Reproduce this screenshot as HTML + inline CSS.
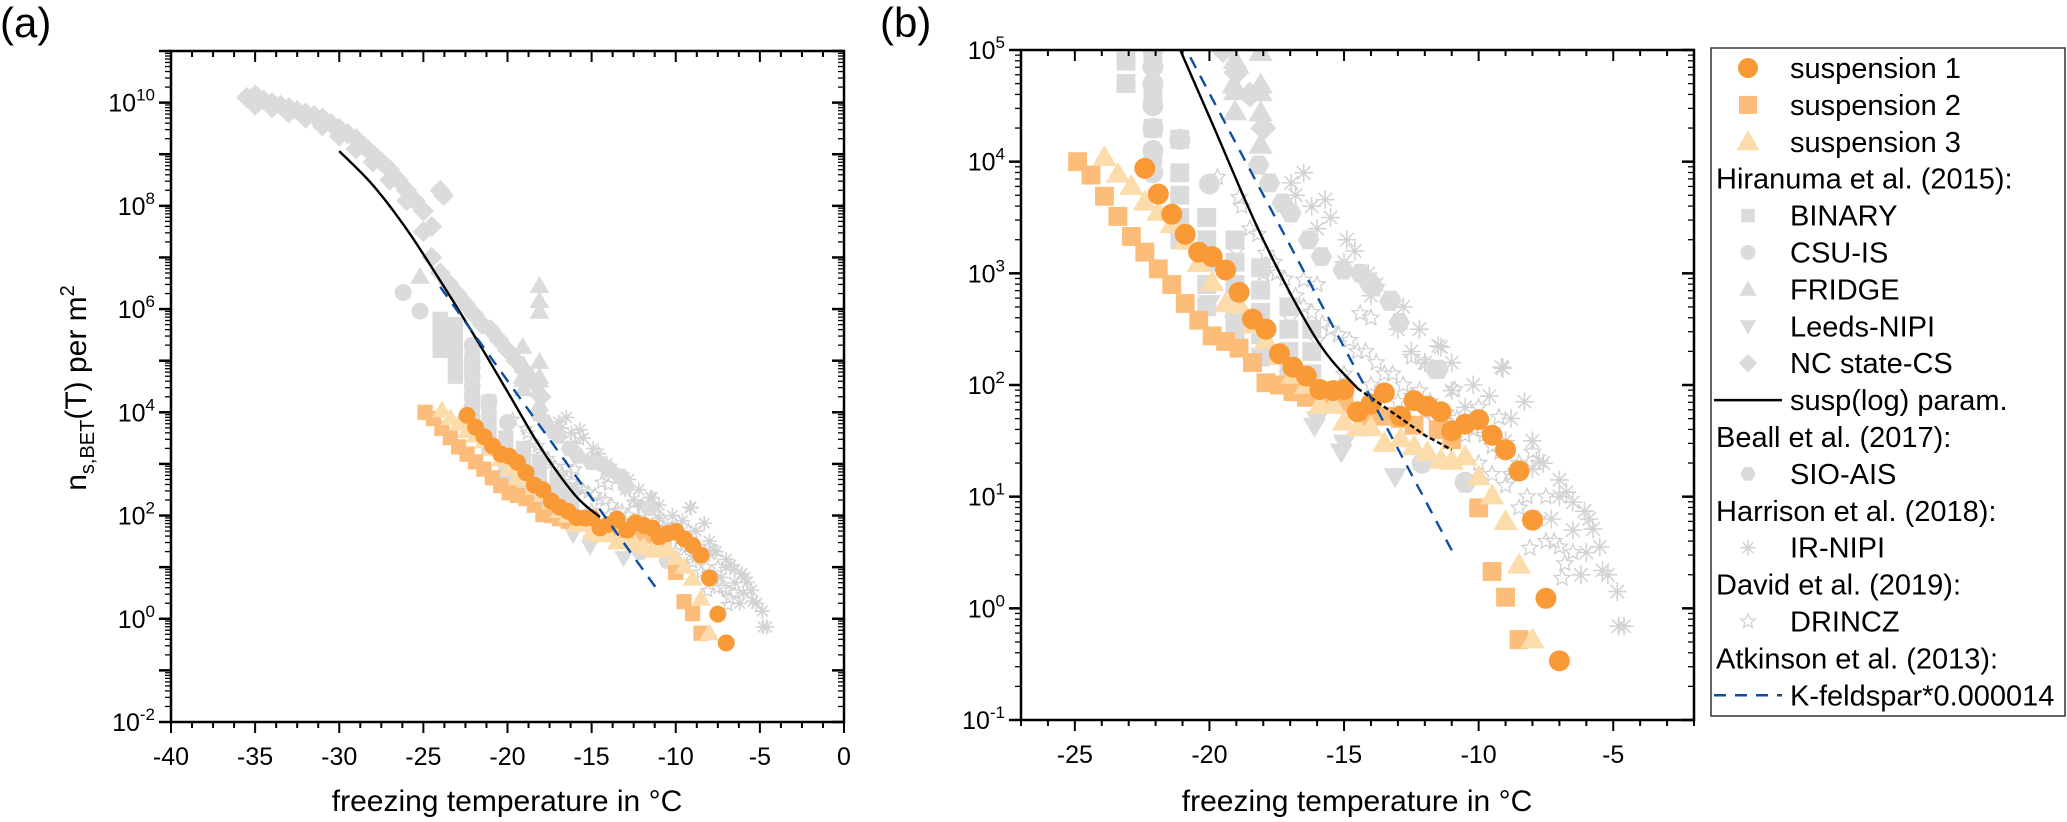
<!DOCTYPE html>
<html><head><meta charset="utf-8"><style>
html,body{margin:0;padding:0;background:#fff;}
svg{display:block;font-family:"Liberation Sans",sans-serif;}
</style></head><body>
<svg id="chart" width="2067" height="822" viewBox="0 0 2067 822" xmlns="http://www.w3.org/2000/svg">
<text x="0" y="37" font-size="42">(a)</text>
<text x="880" y="37" font-size="42">(b)</text>
<g id="pa"></g>
<g id="pb"></g>
<text transform="translate(86,388) rotate(-90)" text-anchor="middle" font-size="30">n<tspan font-size="20" dy="8">s,BET</tspan><tspan dy="-8">(T) per m</tspan><tspan font-size="20" dy="-12">2</tspan></text>
<text x="507" y="811" text-anchor="middle" font-size="30">freezing temperature in °C</text>
<text x="1357" y="811" text-anchor="middle" font-size="30">freezing temperature in °C</text>
<g id="legend"></g>
</svg>
<script>
// ---- data (temperature in °C, log10 of n_s per m²) ----
const s1T=[-22.4,-21.9,-21.4,-20.9,-20.4,-19.9,-19.4,-18.9,-18.4,-17.9,-17.4,-16.9,-16.4,-15.9,-15.4,-15.0,-14.5,-14.0,-13.5,-12.9,-12.4,-11.9,-11.4,-11.0,-10.5,-10.0,-9.5,-9.0,-8.5,-8.0,-7.5,-7.0];
const s1L=[3.94,3.71,3.53,3.35,3.19,3.15,3.03,2.83,2.59,2.5,2.28,2.16,2.08,1.96,1.95,1.96,1.76,1.83,1.93,1.72,1.86,1.81,1.76,1.59,1.65,1.69,1.55,1.42,1.23,0.79,0.09,-0.47];
const s2T=[-24.9,-24.4,-23.9,-23.4,-22.9,-22.4,-21.9,-21.4,-20.9,-20.4,-19.9,-19.4,-18.9,-18.4,-17.9,-17.4,-16.9,-16.4,-15.9,-15.4,-15.0,-14.0,-13.5,-12.9,-12.4,-11.5,-11.0,-10.0,-9.5,-9.0,-8.5];
const s2L=[4.0,3.88,3.69,3.51,3.33,3.19,3.04,2.90,2.73,2.58,2.44,2.39,2.33,2.20,2.02,2.0,1.94,1.89,1.89,1.84,1.83,1.72,1.72,1.70,1.64,1.60,1.51,0.90,0.33,0.10,-0.28];
const s3T=[-23.9,-23.4,-22.9,-22.4,-21.9,-21.4,-20.9,-20.4,-19.9,-19.4,-18.9,-18.4,-17.9,-17.4,-16.9,-16.4,-15.9,-15.4,-15.0,-14.5,-14.0,-13.5,-12.9,-12.4,-11.9,-11.4,-11.0,-10.5,-10.0,-9.5,-9.0,-8.5,-8.0];
const s3L=[4.04,3.89,3.78,3.64,3.55,3.44,3.29,3.09,2.92,2.73,2.72,2.54,2.40,2.26,2.09,2.0,1.82,1.82,1.67,1.62,1.62,1.48,1.52,1.45,1.40,1.33,1.32,1.36,1.18,1.01,0.78,0.39,-0.28];
const binT=[-24.0,-24.0,-24.0,-24.0,-23.1,-23.1,-23.1,-23.1,-23.1,-23.1,-22.1,-22.1,-22.1,-22.1,-22.1,-21.1,-21.1,-21.1,-21.1,-21.1,-20.1,-20.1,-20.1,-20.1,-20.1,-19.05,-19.05,-19.05,-19.05,-19.05,-18.1,-18.1,-18.1,-18.1,-18.1,-17.05,-17.05,-17.05,-17.05,-16.2,-16.2,-16.2];
const binL=[5.2,5.4,5.6,5.8,4.7,4.9,5.1,5.3,5.5,5.7,4.05,4.3,4.6,4.9,5.2,3.3,3.5,3.7,3.9,4.2,2.7,2.9,3.1,3.3,3.5,2.5,2.7,2.9,3.1,3.3,2.25,2.45,2.65,2.85,3.05,2.1,2.3,2.5,2.7,2.1,2.3,2.5];
const csuT=[-26.2,-25.2,-22.1,-22.1,-22.1,-22.1,-22.1,-22.1,-22.1,-22.1,-21.1,-20.0,-12.1,-10.5];
const csuL=[6.32,5.96,3.9,4.1,4.3,4.5,4.7,4.85,5.0,5.3,4.2,3.8,1.3,1.13];
const friT=[-25.2,-18.1,-18.1,-18.1,-18.1,-18.1,-18.1,-18.1,-18.1,-19.05,-19.05,-19.05,-19.1,-19.1];
const friL=[6.63,6.45,6.16,5.95,4.98,4.69,4.62,4.44,4.15,4.91,4.63,4.45,5.27,4.69];
const leedsT=[-20.0,-19.05,-16.0,-15.0,-13.1,-16.1,-15.1];
const leedsL=[2.73,2.55,1.69,1.48,1.18,1.63,1.40];
const ncT=[-35.5,-35,-34.5,-34,-33.5,-33,-32.5,-32,-31.5,-31,-30.5,-30,-29.5,-29,-28.5,-28,-27.5,-27,-26.5,-26,-25.5,-25,-24.5,-24,-23.8,-35,-34,-33,-32,-31,-30,-29,-28,-27,-26,-25,-24.5,-24,-23.5,-23,-22.5,-22,-21.5,-21,-20.5,-20,-19.5,-19,-18.5,-18];
const ncL=[10.1,10.15,10.05,10.0,9.95,9.9,9.85,9.8,9.75,9.7,9.6,9.5,9.4,9.3,9.15,9.0,8.85,8.7,8.5,8.3,8.1,7.9,7.6,8.3,8.2,9.95,9.9,9.8,9.7,9.55,9.35,9.1,8.85,8.5,8.1,7.5,7.0,6.7,6.5,6.3,6.1,5.9,5.7,5.6,5.4,5.2,5.0,4.8,4.6,4.3];
const sioT=[-18.17,-17.77,-17.29,-16.97,-16.32,-15.84,-15.03,-14.39,-14.06,-13.91,-13.3,-13.27,-12.95,-11.6,-11.5,-10.5];
const sioL=[3.97,3.81,3.63,3.54,3.30,3.15,3.03,3.0,2.91,2.88,2.75,2.76,2.56,2.14,2.14,1.12];
const irT=[-16.96,-16.5,-15.7,-14.9,-14.1,-12.8,-11.4,-11.5,-9.1,-9.15,-8.3,-7.75,-6.74,-6.07,-5.75,-5.4,-4.85,-4.6,-4.8,-16.0,-15.0,-14.0,-13.0,-12.0,-11.0,-10.0,-9.0,-8.0,-7.0,-6.5,-6.0,-12.5,-10.5,-8.7,-7.3,-6.2,-16.8,-16.2,-15.5,-14.6,-13.8,-13.2,-12.2,-11.0,-10.2,-9.6,-8.8,-8.0,-7.6,-7.0,-6.5,-5.9,-5.5,-5.2];
const irL=[3.81,3.9,3.66,3.3,3.0,2.7,2.34,2.35,2.15,2.16,1.85,1.32,1.04,0.87,0.71,0.34,0.15,-0.16,-0.16,3.4,3.1,2.8,2.5,2.2,1.95,1.7,1.5,1.25,1.0,0.7,0.5,2.3,1.8,1.2,0.8,0.3,3.7,3.6,3.5,3.2,2.9,2.75,2.5,2.2,2.0,1.9,1.7,1.5,1.3,1.15,0.95,0.8,0.55,0.3];
const drT=[-19.7,-18.9,-17.9,-16.5,-14.4,-12.5,-10.9,-9.25,-8.1,-6.9,-9.5,-8.5,-7.5,-6.5,-18.5,-17.5,-16.5,-15.5,-14.5,-13.5,-12.5,-11.5,-10.5,-9.5,-8.5,-7.5,-17.0,-15.0,-13.0,-11.0,-10.0,-9.0,-8.0,-7.0,-19.0,-16.0,-14.0,-12.0,-18.8,-18.2,-17.6,-17.2,-16.8,-16.2,-15.8,-15.2,-14.8,-14.2,-13.8,-13.2,-12.8,-12.2,-11.8,-11.2,-10.8,-10.2,-9.8,-9.2,-8.8,-8.2,-7.8,-7.2,-6.8,-18.0,-16.0,-14.0,-12.0,-10.0,-8.0];
const drL=[3.86,3.68,3.18,2.94,2.64,2.25,1.96,1.71,0.54,0.27,1.2,0.9,0.6,0.5,3.4,3.0,2.7,2.5,2.3,2.1,1.9,1.7,1.55,1.45,1.3,1.0,2.6,2.1,1.85,1.6,1.3,1.1,0.8,0.55,3.2,2.4,2.0,1.75,3.6,3.35,3.1,2.95,2.8,2.65,2.55,2.45,2.4,2.3,2.2,2.1,2.0,1.95,1.85,1.75,1.7,1.6,1.55,1.4,1.2,1.0,0.8,0.6,0.4,3.0,2.9,2.6,2.2,1.8,1.4];
const paramT=[-30,-28,-26,-24,-22,-20,-18,-16,-14.5];
const paramL=[9.06,8.4,7.55,6.55,5.5,4.4,3.3,2.4,1.97];
const paramExtT=[-14.5,-13,-12,-11];
const paramExtL=[1.97,1.72,1.55,1.42];
const kfT=[-24,-11];
const kfL=[6.43,0.52];

const NS="http://www.w3.org/2000/svg";
function mk(tag,attrs,parent){const e=document.createElementNS(NS,tag);for(const k in attrs)e.setAttribute(k,attrs[k]);if(parent)parent.appendChild(e);return e;}
const GRAY="#dbdbdb";
const C1="#f99a36",C2="#fdbd7a",C3="#fddcac";

function markerShape(type,x,y,s,color,parent){
  let e;
  if(type==="circle"){e=mk("circle",{cx:x,cy:y,r:s/2,fill:color},parent);}
  else if(type==="square"){e=mk("rect",{x:x-s*0.45,y:y-s*0.45,width:s*0.9,height:s*0.9,fill:color},parent);}
  else if(type==="tri"){e=mk("path",{d:`M${x},${y-s*0.58}L${x+s*0.58},${y+s*0.42}L${x-s*0.58},${y+s*0.42}Z`,fill:color},parent);}
  else if(type==="tridown"){e=mk("path",{d:`M${x},${y+s*0.55}L${x+s*0.55},${y-s*0.4}L${x-s*0.55},${y-s*0.4}Z`,fill:color},parent);}
  else if(type==="diamond"){const r=s*0.62;e=mk("path",{d:`M${x},${y-r}L${x+r},${y}L${x},${y+r}L${x-r},${y}Z`,fill:color},parent);}
  else if(type==="hex"){const r=s*0.52;let d="";for(let i=0;i<6;i++){const a=Math.PI/3*i;d+=(i?"L":"M")+(x+r*Math.cos(a))+","+(y+r*Math.sin(a));}e=mk("path",{d:d+"Z",fill:color},parent);}
  else if(type==="ast"){const r=s*0.5;let d="";for(let i=0;i<4;i++){const a=Math.PI/4*i;d+=`M${x-r*Math.cos(a)},${y-r*Math.sin(a)}L${x+r*Math.cos(a)},${y+r*Math.sin(a)}`;}e=mk("path",{d:d,stroke:"#d3d3d3","stroke-width":1.6,fill:"none"},parent);}
  else if(type==="star"){const R=s*0.5,r=R*0.45;let d="";for(let i=0;i<10;i++){const a=-Math.PI/2+Math.PI/5*i;const rr=i%2?r:R;d+=(i?"L":"M")+(x+rr*Math.cos(a))+","+(y+rr*Math.sin(a));}e=mk("path",{d:d+"Z",stroke:"#d0d0d0","stroke-width":1.3,fill:"#fff","fill-opacity":0.3},parent);}
  return e;
}

function drawPanel(gid,P,ms,xMajor,xMinorStep,xLabels,cid){
  const g=document.getElementById(gid);
  const sx=t=>P.x0+(t-P.tmin)/(P.tmax-P.tmin)*(P.x1-P.x0);
  const sy=l=>P.y1-(l-P.lmin)/(P.lmax-P.lmin)*(P.y1-P.y0);
  const defs=mk("defs",{},g);
  const cp=mk("clipPath",{id:cid},defs);
  mk("rect",{x:P.x0,y:P.y0,width:P.x1-P.x0,height:P.y1-P.y0},cp);
  const plot=mk("g",{"clip-path":`url(#${cid})`},g);
  
  
  function series(name,T,L,type,color,size){
    const sg=mk("g",{},plot);
    
    
    for(let i=0;i<T.length;i++){
      const m=markerShape(type,sx(T[i]),sy(L[i]),size,color,sg);
      
      
    }
  }
  series('drincz-series',drT,drL,'star',null,ms*0.8);
  series('ir-nipi-series',irT,irL,'ast',null,ms*0.9);
  series('sio-ais-series',sioT,sioL,'hex',GRAY,ms);
  series('nc-state-series',ncT,ncL,'diamond',GRAY,ms);
  series('binary-series',binT,binL,'square',GRAY,ms);
  series('csu-is-series',csuT,csuL,'circle',GRAY,ms);
  series('fridge-series',friT,friL,'tri',GRAY,ms);
  series('leeds-nipi-series',leedsT,leedsL,'tridown',GRAY,ms);
  series('suspension-2-series',s2T,s2L,'square',C2,ms);
  series('suspension-3-series',s3T,s3L,'tri',C3,ms);
  series('suspension-1-series',s1T,s1L,'circle',C1,ms);
  function line(name,T,L,color,dash,w){
    const d=T.map((t,i)=>(i?"L":"M")+sx(t)+","+sy(L[i])).join("");
    const p=mk("path",{d:d,stroke:color,"stroke-width":w,fill:"none"},plot);
    if(dash)p.setAttribute("stroke-dasharray",dash);
    
    
  }
  function smooth(T,L){const oT=[],oL=[];for(let i=0;i<T.length-1;i++){const p0=i?i-1:i,p3=i+2<T.length?i+2:i+1;for(let k=0;k<10;k++){const u=k/10,u2=u*u,u3=u2*u;const f=(a,b,c,d)=>0.5*(2*b+(-a+c)*u+(2*a-5*b+4*c-d)*u2+(-a+3*b-3*c+d)*u3);oT.push(f(T[p0],T[i],T[i+1],T[p3]));oL.push(f(L[p0],L[i],L[i+1],L[p3]));}}oT.push(T[T.length-1]);oL.push(L[L.length-1]);return [oT,oL];}
  const sm=smooth(paramT,paramL);
  line('susp-log-param-line',sm[0],sm[1],'#000',null,2.4);
  if(gid==='pb')line('susp-log-param-extension',paramExtT,paramExtL,'#000','5,3',2.4);
  line('k-feldspar-line',kfT,kfL,'#0b4ea2','12,9',2.4);
  const fr=mk("rect",{x:P.x0,y:P.y0,width:P.x1-P.x0,height:P.y1-P.y0,fill:"none",stroke:"#000","stroke-width":2.5},g);
  
  
  for(let t=P.tmin;t<=P.tmax+1e-6;t+=xMinorStep){
    const x=sx(t);const major=Math.abs(t/xMajor-Math.round(t/xMajor))<1e-6;
    const len=major?11:6;
    mk("line",{x1:x,y1:P.y1,x2:x,y2:P.y1+len,stroke:"#000","stroke-width":2},g);
    mk("line",{x1:x,y1:P.y0,x2:x,y2:P.y0+len,stroke:"#000","stroke-width":2},g);
  }
  for(const t of xLabels){
    const tx=mk("text",{x:sx(t),y:P.y1+43,"text-anchor":"middle","font-size":25},g);
    tx.textContent=String(t);
    
    
  }
  for(let d=P.lmin;d<=P.lmax;d++){
    const y=sy(d);
    mk("line",{x1:P.x0-12,y1:y,x2:P.x0,y2:y,stroke:"#000","stroke-width":2.5},g);
    mk("line",{x1:P.x1,y1:y,x2:P.x1-12,y2:y,stroke:"#000","stroke-width":2.5},g);
    if(d<P.lmax){for(let m=2;m<10;m++){const yy=sy(d+Math.log10(m));
      mk("line",{x1:P.x0-6,y1:yy,x2:P.x0,y2:yy,stroke:"#000","stroke-width":1.3},g);
      mk("line",{x1:P.x1,y1:yy,x2:P.x1-6,y2:yy,stroke:"#000","stroke-width":1.3},g);}}
    if(P.ylabStep && ((d-P.lmin)%P.ylabStep===0) && d<=P.ylabMax){
      const tx=mk("text",{x:P.x0-16,y:y+9,"text-anchor":"end","font-size":25},g);
      
      
      const a=mk("tspan",{},tx);a.textContent="10";
      const b=mk("tspan",{dy:-11,"font-size":17},tx);b.textContent=String(d);
    }
  }
}
drawPanel('pa',{x0:171,x1:844,y0:51,y1:722,tmin:-40,tmax:0,lmin:-2,lmax:11,ylabStep:2,ylabMax:10},17,5,1.25,[-40,-35,-30,-25,-20,-15,-10,-5,0],'clipA');
drawPanel('pb',{x0:1021,x1:1694,y0:50,y1:720,tmin:-27,tmax:-2,lmin:-1,lmax:5,ylabStep:1,ylabMax:5},21,5,1,[-25,-20,-15,-10,-5],'clipB');

(function(){
  const g=document.getElementById('legend');
  const box=mk("rect",{x:1711,y:48,width:354,height:668,fill:"#fff",stroke:"#333","stroke-width":1.5},g);
  
  
  const rows=[["circle",C1,"suspension 1"],["square",C2,"suspension 2"],["tri",C3,"suspension 3"],["h",null,"Hiranuma et al. (2015):"],["square",GRAY,"BINARY"],["circle",GRAY,"CSU-IS"],["tri",GRAY,"FRIDGE"],["tridown",GRAY,"Leeds-NIPI"],["diamond",GRAY,"NC state-CS"],["line","#000","susp(log) param."],["h",null,"Beall et al. (2017):"],["hex",GRAY,"SIO-AIS"],["h",null,"Harrison et al. (2018):"],["ast",null,"IR-NIPI"],["h",null,"David et al. (2019):"],["star",null,"DRINCZ"],["h",null,"Atkinson et al. (2013):"],["dash","#0b4ea2","K-feldspar*0.000014"]];
  rows.forEach((r,i)=>{
    const y=68+i*36.9;
    const eg=mk("g",{},g);
    
    
    if(r[0]==="h"){const t=mk("text",{x:1716,y:y+10,"font-size":29},eg);t.textContent=r[2];return;}
    if(r[0]==="line")mk("line",{x1:1714,y1:y,x2:1782,y2:y,stroke:"#000","stroke-width":2.5},eg);
    else if(r[0]==="dash")mk("line",{x1:1714,y1:y,x2:1782,y2:y,stroke:r[1],"stroke-width":2.5,"stroke-dasharray":"12,9"},eg);
    else markerShape(r[0],1748,y,i<3?20:15,r[1],eg);
    const t=mk("text",{x:1790,y:y+10,"font-size":29},eg);t.textContent=r[2];
  });
})();
</script>
</body></html>
